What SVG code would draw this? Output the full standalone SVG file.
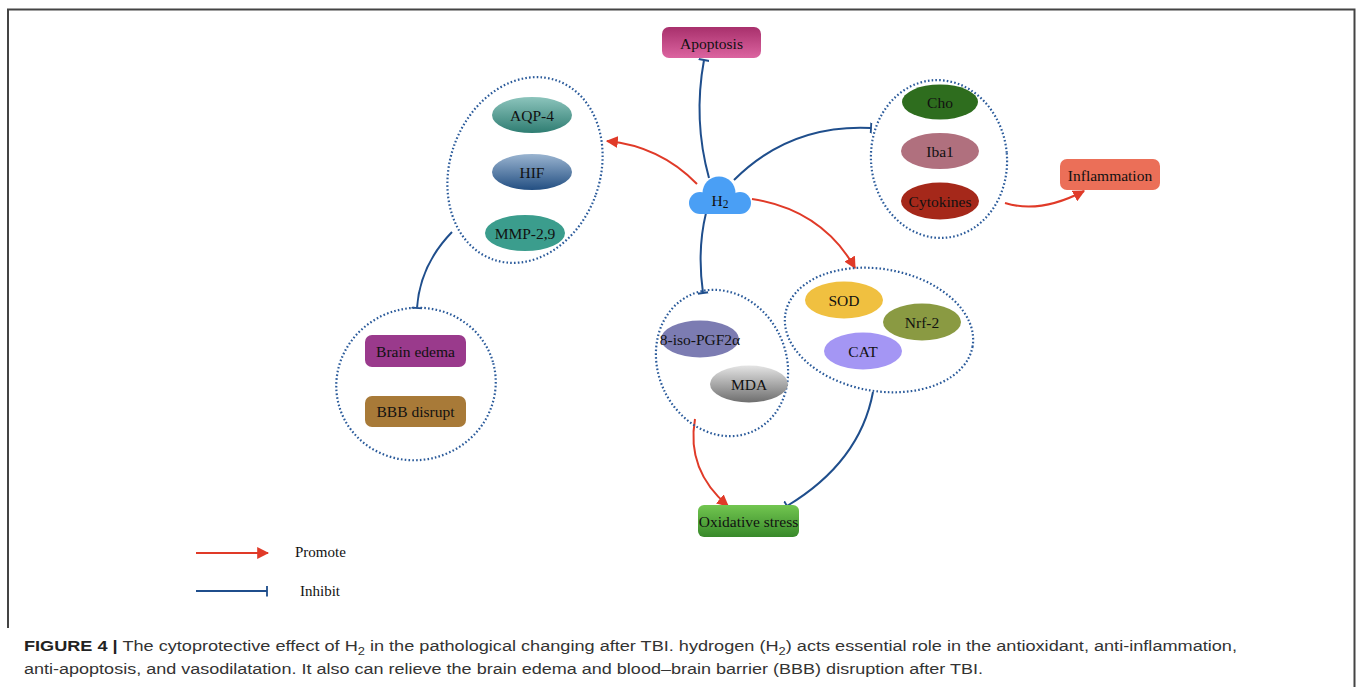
<svg xmlns="http://www.w3.org/2000/svg" width="1357" height="687" viewBox="0 0 1357 687">
<defs>
<style>
.lbl{font-family:"Liberation Serif","Times New Roman",serif;font-size:15.5px;fill:#111;text-anchor:middle;dominant-baseline:central}
.grp{fill:none;stroke:#2a5a9a;stroke-width:2.2;stroke-dasharray:1.6 2.2}
.pro{fill:none;stroke:#e03a28;stroke-width:2}
.inh{fill:none;stroke:#1f4e8c;stroke-width:2}
.cap{font-family:"Liberation Sans",Arial,sans-serif;font-size:15.5px;fill:#333}
.leg{font-family:"Liberation Serif","Times New Roman",serif;font-size:15px;fill:#111}
</style>
<marker id="arr" viewBox="0 0 10 10" refX="9" refY="5" markerWidth="12" markerHeight="12" markerUnits="userSpaceOnUse" orient="auto">
<path d="M0,0 L10,5 L0,10 z" fill="#e03a28"/>
</marker>
<marker id="bar" viewBox="0 0 4 12" refX="2" refY="6" markerWidth="4" markerHeight="11" markerUnits="userSpaceOnUse" orient="auto">
<path d="M2,0 V12" stroke="#1f4e8c" stroke-width="2"/>
</marker>
<linearGradient id="gApo" x1="0" y1="0" x2="0" y2="1"><stop offset="0" stop-color="#a8306c"/><stop offset="1" stop-color="#dc64a0"/></linearGradient>
<linearGradient id="gAqp" x1="0" y1="0" x2="0" y2="1"><stop offset="0" stop-color="#8cc4bc"/><stop offset="1" stop-color="#2f7d72"/></linearGradient>
<linearGradient id="gHif" x1="0" y1="0" x2="0" y2="1"><stop offset="0" stop-color="#9ab4d0"/><stop offset="1" stop-color="#234f82"/></linearGradient>
<linearGradient id="gMda" x1="0" y1="0" x2="0" y2="1"><stop offset="0" stop-color="#e4e4e4"/><stop offset="1" stop-color="#6e6e6e"/></linearGradient>
<linearGradient id="gOx" x1="0" y1="0" x2="0" y2="1"><stop offset="0" stop-color="#72c650"/><stop offset="1" stop-color="#38892a"/></linearGradient>
</defs>
<rect width="1357" height="687" fill="#fff"/>
<g id="frame" fill="none" stroke="#444" stroke-width="2">
<path d="M8,628 V9.5 H1354.5 V687"/>
</g>

<g id="connectors">
<path class="pro" d="M697,184 Q660,146 607,141" marker-end="url(#arr)"/>
<path class="inh" d="M709,178 Q693,120 704,60" marker-end="url(#bar)"/>
<path class="inh" d="M734,180 Q790,124 871,128" marker-end="url(#bar)"/>
<path class="pro" d="M752,199 Q822,210 855,268" marker-end="url(#arr)"/>
<path class="inh" d="M706,213 Q697,250 703,293" marker-end="url(#bar)"/>
<path class="pro" d="M1005,203 Q1040,214 1084,191" marker-end="url(#arr)"/>
<path class="inh" d="M452,232 Q420,265 417,308" marker-end="url(#bar)"/>
<path class="pro" d="M695,419 Q686,470 728,506" marker-end="url(#arr)"/>
<path class="inh" d="M873,392 Q860,462 787,506" marker-end="url(#bar)"/>
</g>

<g id="apoptosis">
<rect x="662" y="27" width="99" height="31" rx="7" fill="url(#gApo)"/>
<text class="lbl" x="711.5" y="43">Apoptosis</text>
</g>

<g id="h2">
<circle cx="700" cy="203" r="11" fill="#4a9ff5"/>
<circle cx="740" cy="203" r="11" fill="#4a9ff5"/>
<circle cx="719" cy="193" r="16.5" fill="#4a9ff5"/>
<rect x="700" y="196" width="40" height="18" fill="#4a9ff5"/>
<text class="lbl" x="720" y="200" font-size="16.5">H<tspan font-size="11.5" dy="4">2</tspan></text>
</g>

<g id="group-aqp">
<ellipse class="grp" cx="525" cy="170" rx="75" ry="95" transform="rotate(20 525 170)"/>
<ellipse cx="532" cy="115" rx="40" ry="18" fill="url(#gAqp)"/>
<text class="lbl" x="532" y="115">AQP-4</text>
<ellipse cx="532" cy="172" rx="40" ry="18" fill="url(#gHif)"/>
<text class="lbl" x="532" y="172">HIF</text>
<ellipse cx="525" cy="233" rx="40" ry="18" fill="#3b9d8d"/>
<text class="lbl" x="525" y="233">MMP-2,9</text>
</g>

<g id="group-cho">
<ellipse class="grp" cx="939" cy="159" rx="68" ry="79" transform="rotate(-5 939 159)"/>
<ellipse cx="940" cy="102" rx="38" ry="17.5" fill="#2e6d1e"/>
<text class="lbl" x="940" y="102">Cho</text>
<ellipse cx="940" cy="151" rx="39" ry="18" fill="#b0707e"/>
<text class="lbl" x="940" y="151">Iba1</text>
<ellipse cx="940" cy="201" rx="39" ry="18.5" fill="#a5281a"/>
<text class="lbl" x="940" y="201">Cytokines</text>
</g>

<g id="inflammation">
<rect x="1060" y="159" width="100" height="31" rx="7" fill="#eb6f58"/>
<text class="lbl" x="1110" y="175">Inflammation</text>
</g>

<g id="group-sod">
<ellipse class="grp" cx="879" cy="330" rx="95" ry="61" transform="rotate(10 879 330)"/>
<ellipse cx="844" cy="300" rx="39" ry="18.5" fill="#f0c040"/>
<text class="lbl" x="844" y="300">SOD</text>
<ellipse cx="922" cy="322" rx="39" ry="18.5" fill="#8a9a42"/>
<text class="lbl" x="922" y="322">Nrf-2</text>
<ellipse cx="863" cy="351" rx="39" ry="18.5" fill="#a496f4"/>
<text class="lbl" x="863" y="351">CAT</text>
</g>

<g id="group-mda">
<ellipse class="grp" cx="722" cy="363" rx="64" ry="75" transform="rotate(-25 722 363)"/>
<ellipse cx="700" cy="339" rx="39" ry="18.5" fill="#7c7cb2"/>
<text class="lbl" x="700" y="339" font-size="13">8-iso-PGF2α</text>
<ellipse cx="749" cy="384" rx="39" ry="18.5" fill="url(#gMda)"/>
<text class="lbl" x="749" y="384">MDA</text>
</g>

<g id="oxidative">
<rect x="698" y="505" width="101" height="32" rx="6" fill="url(#gOx)"/>
<text class="lbl" x="748.5" y="521">Oxidative stress</text>
</g>

<g id="group-brain">
<ellipse class="grp" cx="416" cy="384" rx="80" ry="76" transform="rotate(-15 416 384)"/>
<rect x="365" y="335" width="101" height="32" rx="7" fill="#9a3a8c"/>
<text class="lbl" x="415.5" y="351">Brain edema</text>
<rect x="365" y="396" width="101" height="31" rx="7" fill="#a87a38"/>
<text class="lbl" x="415.5" y="411.5">BBB disrupt</text>
</g>

<g id="legend">
<path class="pro" d="M196,553 H268" marker-end="url(#arr)"/>
<text class="leg" x="295" y="557">Promote</text>
<path class="inh" d="M196,591 H267" marker-end="url(#bar)"/>
<text class="leg" x="300" y="596">Inhibit</text>
</g>

<g id="caption">
<text class="cap" x="24" y="651" textLength="1213" lengthAdjust="spacingAndGlyphs"><tspan font-weight="bold" fill="#222">FIGURE 4 |</tspan> The cytoprotective effect of H<tspan font-size="11" dy="4">2</tspan><tspan dy="-4"> in the pathological changing after TBI. hydrogen (H</tspan><tspan font-size="11" dy="4">2</tspan><tspan dy="-4">) acts essential role in the antioxidant, anti-inflammation,</tspan></text>
<text class="cap" x="24" y="674" textLength="959" lengthAdjust="spacingAndGlyphs">anti-apoptosis, and vasodilatation. It also can relieve the brain edema and blood–brain barrier (BBB) disruption after TBI.</text>
</g>
</svg>
